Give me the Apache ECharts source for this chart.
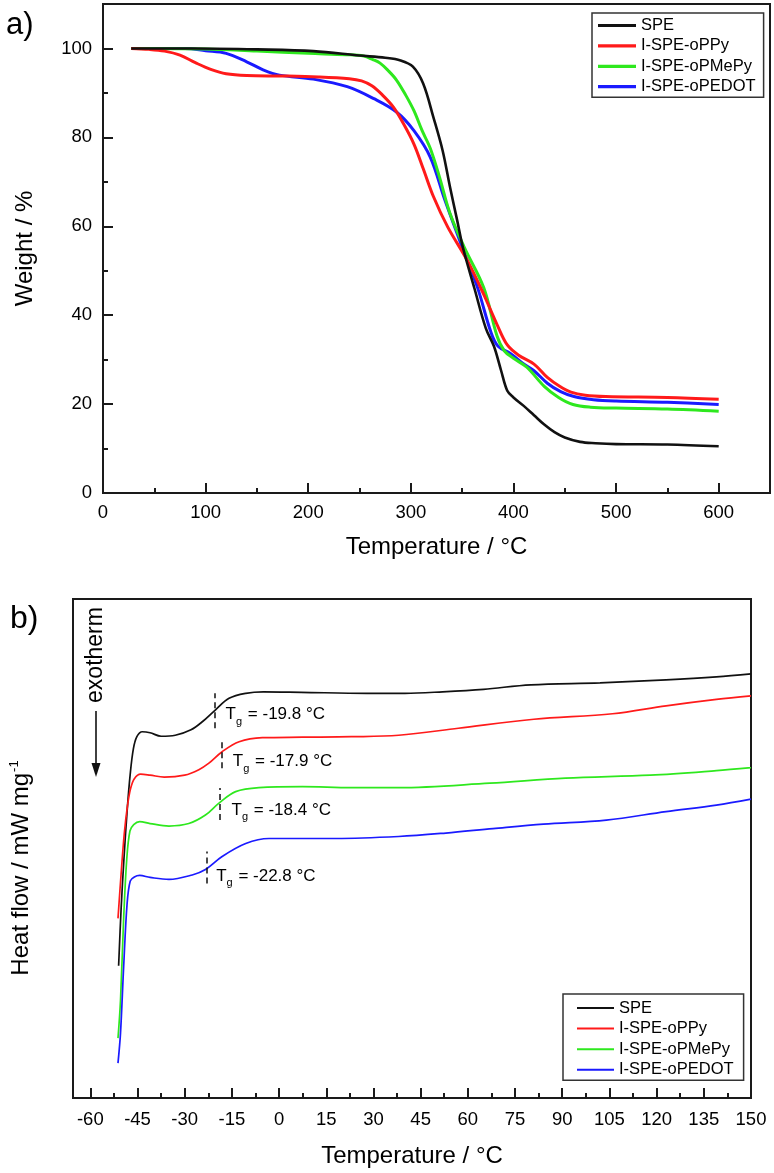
<!DOCTYPE html>
<html>
<head>
<meta charset="utf-8">
<script src="https://cdn.jsdelivr.net/npm/echarts@6/dist/echarts.min.js"></script>
<style>
  html, body { margin: 0; padding: 0; background: #fff; }
  #chart { width: 774px; height: 1173px; }
</style>
</head>
<body>
<div id="chart"></div>
<script>
(() => {
  const FONT = '"Liberation Sans", Arial, sans-serif';
  const names = ['SPE', 'I-SPE-oPPy', 'I-SPE-oPMePy', 'I-SPE-oPEDOT'];
  const colors = ['#111111', '#ff1a1a', '#2ee81e', '#1a1aff'];

  // a) TGA: [temperature °C, weight %]
  const tgaSPE = [[27.5,100],[90,100],[150,99.8],[205,99.4],[250,98.4],[275,97.9],[290,97.3],[302,95.9],[312,92.1],[322,84.5],[331,77],[338,69],[345,61.5],[351,55],[362,46],[373,37.1],[381,33],[388,27.5],[394,23],[400,21.5],[410,19.6],[420,17.5],[430,15.4],[440,13.7],[450,12.5],[465,11.5],[480,11.2],[500,11],[550,10.9],[600,10.5]];
  const tgaOPPy = [[27.5,100],[45,99.8],[60,99.4],[75,98.5],[90,96.8],[105,95.3],[120,94.3],[140,93.9],[175,93.8],[210,93.6],[240,93.2],[252,92.7],[262,91.6],[272,89.6],[283,86.8],[293,83],[303,78.5],[312,73],[322,66.7],[336,59.8],[355,52.3],[371,44.7],[384,37.9],[394,33.3],[405,31],[420,29],[433,26],[445,24],[456,22.7],[470,22],[490,21.7],[550,21.5],[600,21.1]];
  const tgaOPMePy = [[27.5,100],[100,99.9],[150,99.4],[200,98.9],[237,98.6],[254,98.3],[263,97.5],[270,96.7],[278,95],[286,92.9],[295,89.5],[303,86],[311,81.5],[319,77.5],[328,71],[338,63],[352,55.3],[371,46.2],[384,35.3],[391,32],[400,30.3],[413,28.3],[430,24],[444,21.5],[458,19.9],[475,19.3],[500,19.1],[550,18.9],[600,18.4]];
  const tgaOPEDOT = [[27.5,100],[80,100],[100,99.5],[120,98.9],[140,97],[156,95.2],[172,94],[205,93.1],[238,91.4],[264,88.7],[286,85.7],[303,81.5],[319,75.5],[333,66],[350,55.3],[365,46.2],[378,36.2],[385,33],[397,31.4],[410,29],[420,27.5],[433,24.7],[446,22.8],[459,21.7],[478,21],[500,20.7],[550,20.4],[600,19.9]];

  // b) DSC: [temperature °C, heat flow (arbitrary, offset curves)]
  const dscSPE = [[-51,26.5],[-50.2,38],[-49.3,48],[-48.3,57.5],[-47.3,65],[-46.3,70],[-45.2,72.4],[-43.5,73.4],[-41,73.2],[-37.5,72.5],[-33,72.7],[-28,73.8],[-24.4,75.4],[-20.2,77.8],[-15.9,80.1],[-10.6,81.1],[-5,81.4],[7,81.3],[28,81.1],[40,81.1],[52,81.4],[65,81.9],[80,82.8],[102,83.2],[123,83.8],[139,84.4],[150,85]];
  const dscOPPy = [[-51.2,36],[-50.2,45],[-49.2,53],[-48.2,58.5],[-47.2,62],[-46,64],[-44,64.9],[-41,64.7],[-36.5,64.3],[-30,64.7],[-25.5,65.8],[-22.3,67.1],[-18.1,69.4],[-12.7,71.4],[-5.3,72.2],[7.4,72.3],[23,72.4],[38,72.7],[57,74.1],[81,75.9],[106,77],[123,78.6],[139,79.9],[150,80.6]];
  const dscOPMePy = [[-51.2,12],[-50.4,19.6],[-49.4,36],[-48.4,48],[-47.4,53.5],[-46.2,54.8],[-44.3,55.4],[-41,55],[-35,54.5],[-28.7,55],[-23.4,56.7],[-19.1,59.1],[-13.8,61.4],[-6.4,62.2],[7.4,62.4],[23,62.2],[38,62.2],[67,63.1],[91,64.1],[118,64.7],[139,65.6],[150,66.2]];
  const dscOPEDOT = [[-51.2,7],[-50.4,13],[-49.4,26.3],[-48.3,39],[-47.3,43.5],[-46,44.3],[-44.3,44.6],[-41,44.2],[-35,43.8],[-27.6,44.7],[-23.4,45.8],[-18.1,48.4],[-10.6,51],[-3.2,52],[18,52],[38,52.4],[53,53.1],[68,54],[84,54.9],[104,55.7],[123,57.4],[139,58.7],[150,59.9]];

  // glass transition markers
  const tgValues = ['-19.8', '-17.9', '-18.4', '-22.8'];
  const tgLineX = [-20.3, -18.1, -18.8, -23.1];
  const tgLineFrom = [74.1, 66.1, 55.7, 43];
  const tgLineTo = [81.1, 72.1, 62.1, 49.4];
  const tgLabelX = [-17, -14.7, -15.1, -20];
  const tgLabelY = [76.8, 67.4, 57.7, 44.4];

  // ticks
  const tgaTicksX = [0, 100, 200, 300, 400, 500, 600];
  const tgaMinorX = [50, 150, 250, 350, 450, 550];
  const tgaTicksY = [0, 20, 40, 60, 80, 100];
  const tgaMinorY = [10, 30, 50, 70, 90];
  const dscTicksX = [-60, -45, -30, -15, 0, 15, 30, 45, 60, 75, 90, 105, 120, 135, 150];
  const dscMinorX = [-52.5, -37.5, -22.5, -7.5, 7.5, 22.5, 37.5, 52.5, 67.5, 82.5, 97.5, 112.5, 127.5, 142.5];

  const axisColor = '#1a1a1a';
  const labelStyle = { fontFamily: FONT, fontSize: 18.5, color: '#000' };

  const majorAxis = (grid, pos, min, max, ticks, margin, extra) => Object.assign({
    type: 'value', gridIndex: grid, position: pos, min, max,
    axisLine: { show: true, onZero: false, lineStyle: { color: axisColor, width: 2 } },
    axisTick: { show: true, inside: true, length: 10, customValues: ticks, lineStyle: { color: axisColor, width: 2 } },
    axisLabel: Object.assign({ customValues: ticks, margin }, labelStyle),
    splitLine: { show: false },
  }, extra || {});
  const minorAxis = (grid, pos, min, max, ticks) => ({
    type: 'value', gridIndex: grid, position: pos, offset: 0, min, max,
    axisLine: { show: false, onZero: false },
    axisTick: { show: true, inside: true, length: 5, customValues: ticks, lineStyle: { color: axisColor, width: 2 } },
    axisLabel: { show: false },
    splitLine: { show: false },
  });

  const tgaSets = [tgaSPE, tgaOPPy, tgaOPMePy, tgaOPEDOT];
  const dscSets = [dscSPE, dscOPPy, dscOPMePy, dscOPEDOT];

  const series = [];
  tgaSets.forEach((data, i) => series.push({
    name: names[i], type: 'line', xAxisIndex: 0, yAxisIndex: 0,
    symbol: 'none', smooth: 0.35, z: 10 - i,
    lineStyle: { width: i === 0 ? 2.6 : 3, color: colors[i] },
    itemStyle: { color: colors[i] },
    data,
  }));
  dscSets.forEach((data, i) => series.push({
    name: names[i], type: 'line', xAxisIndex: 2, yAxisIndex: 2,
    symbol: 'none', smooth: 0.35,
    lineStyle: { width: 1.7, color: colors[i] },
    itemStyle: { color: colors[i] },
    data,
    markLine: {
      silent: true, symbol: 'none', animation: false,
      label: { show: false },
      lineStyle: { color: '#111', width: 1.5, type: [6, 4] },
      data: [[{ coord: [tgLineX[i], tgLineFrom[i]] }, { coord: [tgLineX[i], tgLineTo[i]] }]],
    },
  }));
  // Tg annotations (scatter default opacity is 0.8, which greys the labels)
  series.push({
    type: 'scatter', xAxisIndex: 2, yAxisIndex: 2, silent: true,
    symbolSize: 0, itemStyle: { color: '#000', opacity: 1 },
    data: tgLabelX.map((x, i) => [x, tgLabelY[i], tgValues[i]]),
    label: {
      show: true, position: 'right', distance: 0, color: '#000',
      formatter: (p) => `{t|T}{s|g}{t| = ${p.data[2]} °C}`,
      rich: {
        t: { fontFamily: FONT, fontSize: 17, color: '#000' },
        s: { fontFamily: FONT, fontSize: 11, color: '#000', padding: [14, 1, 0, 0] },
      },
    },
  });

  const legendBase = {
    orient: 'vertical', icon: 'rect', itemWidth: 38,
    borderColor: '#333', borderWidth: 1.5, backgroundColor: '#fff',
    textStyle: { fontFamily: FONT, fontSize: 16.5, color: '#000' },
    selectedMode: false, data: names,
  };

  const chart = echarts.init(document.getElementById('chart'), null, { renderer: 'canvas' });
  chart.setOption({
    animation: false,
    backgroundColor: '#fff',
    grid: [
      { left: 103, right: 4, top: 4, bottom: 680, show: true, borderColor: axisColor, borderWidth: 2 },
      { left: 73, right: 23, top: 599, bottom: 75, show: true, borderColor: axisColor, borderWidth: 2 },
    ],
    legend: [
      Object.assign({}, legendBase, { left: 592, top: 13, itemHeight: 3.2, itemGap: 3.4, padding: [4, 8, 2, 6] }),
      Object.assign({}, legendBase, { left: 563, top: 994, itemWidth: 37, itemHeight: 2, itemGap: 3.6, padding: [5.5, 10, 2, 14] }),
    ],
    xAxis: [
      majorAxis(0, 'bottom', 0, 650, tgaTicksX, 10, {
        name: 'Temperature / °C', nameLocation: 'middle', nameGap: 42,
        nameTextStyle: { fontFamily: FONT, fontSize: 24, color: '#000' },
      }),
      minorAxis(0, 'bottom', 0, 650, tgaMinorX),
      majorAxis(1, 'bottom', -65.5, 150, dscTicksX, 12, {
        name: 'Temperature / °C', nameLocation: 'middle', nameGap: 46,
        nameTextStyle: { fontFamily: FONT, fontSize: 24, color: '#000' },
      }),
      minorAxis(1, 'bottom', -65.5, 150, dscMinorX),
    ],
    yAxis: [
      majorAxis(0, 'left', 0, 110, tgaTicksY, 11, {
        name: 'Weight / %', nameLocation: 'middle', nameGap: 66,
        nameTextStyle: { fontFamily: FONT, fontSize: 24, color: '#000' },
      }),
      minorAxis(0, 'left', 0, 110, tgaMinorY),
      {
        type: 'value', gridIndex: 1, position: 'left', min: 0, max: 100,
        axisLine: { show: true, onZero: false, lineStyle: { color: axisColor, width: 2 } },
        axisTick: { show: false }, axisLabel: { show: false }, splitLine: { show: false },
      },
    ],
    graphic: [
      { type: 'text', left: 6, top: 10, style: { text: 'a)', fontFamily: FONT, fontSize: 31, fill: '#000' } },
      { type: 'text', left: 10, top: 603, style: { text: 'b)', fontFamily: FONT, fontSize: 32, fill: '#000' } },
      {
        type: 'text', x: 21, y: 868, rotation: Math.PI / 2,
        style: {
          text: '{a|Heat flow / mW mg}{s|-1}', align: 'center', verticalAlign: 'middle',
          rich: {
            a: { fontFamily: FONT, fontSize: 24, fill: '#000' },
            s: { fontFamily: FONT, fontSize: 13, fill: '#000', padding: [0, 0, 14, 1] },
          },
        },
      },
      {
        type: 'text', x: 96, y: 655, rotation: Math.PI / 2,
        style: { text: 'exotherm', fontFamily: FONT, fontSize: 23, fill: '#000', align: 'center', verticalAlign: 'middle' },
      },
      { type: 'line', shape: { x1: 96, y1: 711, x2: 96, y2: 766 }, style: { stroke: '#111', lineWidth: 1.6 } },
      { type: 'polygon', shape: { points: [[91.5, 763], [100.5, 763], [96, 777]] }, style: { fill: '#111' } },
    ],
    series,
  });
})();
</script>
</body>
</html>
